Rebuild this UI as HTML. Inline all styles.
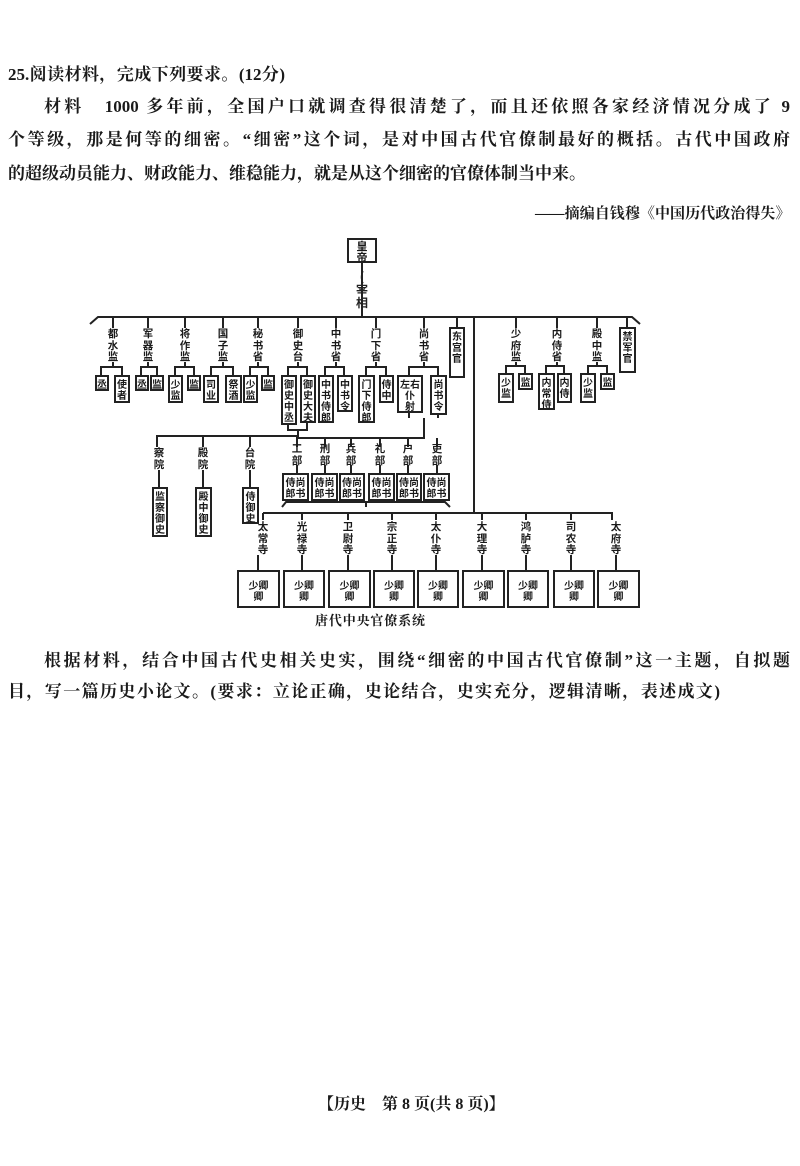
<!DOCTYPE html>
<html><head><meta charset="utf-8"><style>
body{margin:0;width:800px;height:1166px;background:#fff;position:relative;overflow:hidden;font-family:"Liberation Serif","Noto Serif CJK SC",serif;color:#1a1a1a}
.l{position:absolute;font-size:17px;font-weight:bold;line-height:20px;white-space:nowrap;text-align:justify;text-align-last:justify}
.d{position:absolute}
.b{position:absolute;border:2px solid #222;box-sizing:border-box;font-size:10px;line-height:11px;text-align:center;font-weight:bold;padding-top:1px;font-family:"Noto Sans CJK SC",sans-serif;background:#fff}
.t{position:absolute;width:16px;font-size:10.5px;line-height:11.5px;text-align:center;font-weight:bold;font-family:"Noto Sans CJK SC",sans-serif}
</style></head><body>
<div class="l" style="left:8px;top:65px;width:277px">25.阅读材料，完成下列要求。(12分)</div>
<div class="l" style="left:44px;top:97px;width:746px">材料　1000 多年前，全国户口就调查得很清楚了，而且还依照各家经济情况分成了 9</div>
<div class="l" style="left:8px;top:130px;width:782px">个等级，那是何等的细密。“细密”这个词，是对中国古代官僚制最好的概括。古代中国政府</div>
<div class="l" style="left:8px;top:164px;width:578px">的超级动员能力、财政能力、维稳能力，就是从这个细密的官僚体制当中来。</div>
<div class="l" style="left:535px;top:204px;width:255px;font-size:15px;letter-spacing:-0.5px">——摘编自钱穆《中国历代政治得失》</div>
<div class="l" style="left:44px;top:651px;width:746px">根据材料，结合中国古代史相关史实，围绕“细密的中国古代官僚制”这一主题，自拟题</div>
<div class="l" style="left:8px;top:682px;width:712px">目，写一篇历史小论文。(要求：立论正确，史论结合，史实充分，逻辑清晰，表述成文)</div>
<div class="l" style="left:318px;top:1095px;width:164px;font-size:16px">【历史　第 8 页(共 8 页)】</div>
<div class="l" style="left:315px;top:611px;width:110px;font-size:13px;text-align-last:justify">唐代中央官僚系统</div>

<svg class="d" style="left:0;top:0" width="800" height="1166">
<g stroke="#222" stroke-width="2" fill="none">
<line x1="362" y1="262" x2="362" y2="317"/>
<path d="M90 324 L98 317 L632 317 L640 324"/>
<path d="M113 317V328 M148 317V328 M185 317V328 M223 317V328 M258 317V328 M298 317V328 M336 317V328 M376 317V328 M424 317V328 M457 317V327 M516 317V328 M557 317V328 M597 317V328 M627 317V327"/>
<line x1="474" y1="317" x2="474" y2="513"/>
<path d="M113 362V367 M101 375V367H122V375"/>
<path d="M148 362V367 M141 375V367H157V375"/>
<path d="M185 362V367 M175 375V367H194V375"/>
<path d="M223 362V367 M211 375V367H233V375"/>
<path d="M258 362V367 M250 375V367H268V375"/>
<path d="M298 362V367 M288 375V367H307V375"/>
<path d="M336 362V367 M325 375V367H344V375"/>
<path d="M376 362V367 M366 375V367H386V375"/>
<path d="M424 362V367 M409 375V367H438V375"/>
<path d="M516 362V366 M506 373V366H525V373"/>
<path d="M557 362V366 M546 373V366H564V373"/>
<path d="M597 362V366 M588 373V366H607V373"/>
<path d="M288 425V430 H307V423 M298 430V436 H157V447 M203 436V447 M250 436V447"/>
<path d="M159 470V487 M203 470V487 M250 470V487"/>
<path d="M409 413V418 M438 415V418 M424 418V438 H297V447 M325 438V447 M351 438V447 M380 438V447 M408 438V447 M437 438V447"/>
<path d="M297 465V473 M325 465V473 M351 465V473 M380 465V473 M408 465V473 M437 465V473"/>
<path d="M282 507L286 502H445L450 507 M366 502V507"/>
<path d="M263 513H612V520 M263 513V520 M302 513V520 M348 513V520 M392 513V520 M436 513V520 M482 513V520 M526 513V520 M571 513V520"/>
<path d="M258 555V570 M302 555V570 M348 555V570 M392 555V570 M436 555V570 M482 555V570 M526 555V570 M571 555V570 M616 555V570"/>
</g>
<g font-family="Noto Sans CJK SC,sans-serif" font-size="12" font-weight="bold" fill="#222" text-anchor="middle">
<text x="362" y="281">(</text><text x="362" y="294">宰</text><text x="362" y="307">相</text>
</g>
</svg>

<div class="b" style="left:347px;top:238px;width:30px;height:25px;font-size:11px">皇<br>帝</div>

<div class="t" style="left:105px;top:328px">都<br>水<br>监</div>
<div class="t" style="left:140px;top:328px">军<br>器<br>监</div>
<div class="t" style="left:177px;top:328px">将<br>作<br>监</div>
<div class="t" style="left:215px;top:328px">国<br>子<br>监</div>
<div class="t" style="left:250px;top:328px">秘<br>书<br>省</div>
<div class="t" style="left:290px;top:328px">御<br>史<br>台</div>
<div class="t" style="left:328px;top:328px">中<br>书<br>省</div>
<div class="t" style="left:368px;top:328px">门<br>下<br>省</div>
<div class="t" style="left:416px;top:328px">尚<br>书<br>省</div>
<div class="b" style="left:449px;top:327px;width:16px;height:51px">东<br>宫<br>官</div>
<div class="t" style="left:508px;top:328px">少<br>府<br>监</div>
<div class="t" style="left:549px;top:328px">内<br>侍<br>省</div>
<div class="t" style="left:589px;top:328px">殿<br>中<br>监</div>
<div class="b" style="left:619px;top:327px;width:17px;height:46px">禁<br>军<br>官</div>

<div class="b" style="left:95px;top:375px;width:14px;height:16px">丞</div>
<div class="b" style="left:114px;top:375px;width:16px;height:28px">使<br>者</div>
<div class="b" style="left:135px;top:375px;width:14px;height:16px">丞</div>
<div class="b" style="left:150px;top:375px;width:14px;height:16px">监</div>
<div class="b" style="left:168px;top:375px;width:15px;height:28px">少<br>监</div>
<div class="b" style="left:187px;top:375px;width:14px;height:16px">监</div>
<div class="b" style="left:203px;top:375px;width:16px;height:28px">司<br>业</div>
<div class="b" style="left:225px;top:375px;width:17px;height:28px">祭<br>酒</div>
<div class="b" style="left:243px;top:375px;width:15px;height:28px">少<br>监</div>
<div class="b" style="left:261px;top:375px;width:14px;height:16px">监</div>
<div class="b" style="left:281px;top:375px;width:16px;height:50px">御<br>史<br>中<br>丞</div>
<div class="b" style="left:300px;top:375px;width:16px;height:48px">御<br>史<br>大<br>夫</div>
<div class="b" style="left:318px;top:375px;width:16px;height:48px">中<br>书<br>侍<br>郎</div>
<div class="b" style="left:337px;top:375px;width:16px;height:37px">中<br>书<br>令</div>
<div class="b" style="left:358px;top:375px;width:17px;height:48px">门<br>下<br>侍<br>郎</div>
<div class="b" style="left:379px;top:375px;width:15px;height:28px">侍<br>中</div>
<div class="b" style="left:397px;top:375px;width:26px;height:38px">左右<br>仆<br>射</div>
<div class="b" style="left:430px;top:375px;width:17px;height:40px">尚<br>书<br>令</div>
<div class="b" style="left:498px;top:373px;width:16px;height:30px">少<br>监</div>
<div class="b" style="left:518px;top:373px;width:15px;height:17px">监</div>
<div class="b" style="left:538px;top:373px;width:17px;height:37px">内<br>常<br>侍</div>
<div class="b" style="left:557px;top:373px;width:15px;height:30px">内<br>侍</div>
<div class="b" style="left:580px;top:373px;width:16px;height:30px">少<br>监</div>
<div class="b" style="left:600px;top:373px;width:15px;height:17px">监</div>

<div class="t" style="left:151px;top:447px">察<br>院</div>
<div class="t" style="left:195px;top:447px">殿<br>院</div>
<div class="t" style="left:242px;top:447px">台<br>院</div>
<div class="b" style="left:152px;top:487px;width:16px;height:50px">监<br>察<br>御<br>史</div>
<div class="b" style="left:195px;top:487px;width:17px;height:50px">殿<br>中<br>御<br>史</div>
<div class="b" style="left:242px;top:487px;width:17px;height:37px">侍<br>御<br>史</div>

<div class="t" style="left:289px;top:443px">工<br>部</div>
<div class="t" style="left:317px;top:443px">刑<br>部</div>
<div class="t" style="left:343px;top:443px">兵<br>部</div>
<div class="t" style="left:372px;top:443px">礼<br>部</div>
<div class="t" style="left:400px;top:443px">户<br>部</div>
<div class="t" style="left:429px;top:443px">吏<br>部</div>
<div class="b" style="left:282px;top:473px;width:27px;height:28px">侍尚<br>郎书</div>
<div class="b" style="left:311px;top:473px;width:27px;height:28px">侍尚<br>郎书</div>
<div class="b" style="left:339px;top:473px;width:26px;height:28px">侍尚<br>郎书</div>
<div class="b" style="left:368px;top:473px;width:27px;height:28px">侍尚<br>郎书</div>
<div class="b" style="left:396px;top:473px;width:26px;height:28px">侍尚<br>郎书</div>
<div class="b" style="left:423px;top:473px;width:27px;height:28px">侍尚<br>郎书</div>

<div class="t" style="left:255px;top:521px">太<br>常<br>寺</div>
<div class="t" style="left:294px;top:521px">光<br>禄<br>寺</div>
<div class="t" style="left:340px;top:521px">卫<br>尉<br>寺</div>
<div class="t" style="left:384px;top:521px">宗<br>正<br>寺</div>
<div class="t" style="left:428px;top:521px">太<br>仆<br>寺</div>
<div class="t" style="left:474px;top:521px">大<br>理<br>寺</div>
<div class="t" style="left:518px;top:521px">鸿<br>胪<br>寺</div>
<div class="t" style="left:563px;top:521px">司<br>农<br>寺</div>
<div class="t" style="left:608px;top:521px">太<br>府<br>寺</div>
<div class="b" style="left:237px;top:570px;width:43px;height:38px;padding-top:7px">少卿<br>卿</div>
<div class="b" style="left:283px;top:570px;width:42px;height:38px;padding-top:7px">少卿<br>卿</div>
<div class="b" style="left:328px;top:570px;width:43px;height:38px;padding-top:7px">少卿<br>卿</div>
<div class="b" style="left:373px;top:570px;width:42px;height:38px;padding-top:7px">少卿<br>卿</div>
<div class="b" style="left:417px;top:570px;width:42px;height:38px;padding-top:7px">少卿<br>卿</div>
<div class="b" style="left:462px;top:570px;width:43px;height:38px;padding-top:7px">少卿<br>卿</div>
<div class="b" style="left:507px;top:570px;width:42px;height:38px;padding-top:7px">少卿<br>卿</div>
<div class="b" style="left:553px;top:570px;width:42px;height:38px;padding-top:7px">少卿<br>卿</div>
<div class="b" style="left:597px;top:570px;width:43px;height:38px;padding-top:7px">少卿<br>卿</div>
</body></html>
